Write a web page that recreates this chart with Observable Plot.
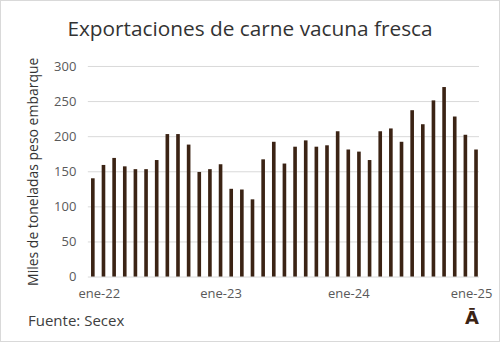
<!DOCTYPE html>
<html>
<head>
<meta charset="utf-8">
<script src="https://cdn.jsdelivr.net/npm/d3@7"></script>
<script src="https://cdn.jsdelivr.net/npm/@observablehq/plot@0.6"></script>
<style>
  html, body { margin: 0; padding: 0; background: #fff; }
  #frame { position: relative; width: 498px; height: 340px; border: 1px solid #d9d9d9; overflow: hidden; font-family: "Open Sans", sans-serif; }
  #title { position: absolute; left: 0; width: 498px; top: 13px; text-align: center; font-size: 20.8px; color: #333; }
  #chart { position: absolute; left: -1px; top: 54px; }
  #source { position: absolute; left: 27px; top: 309px; font-size: 15px; color: #404040; }
  #logo { position: absolute; left: 464px; top: 306px; font-size: 18px; font-weight: bold; color: #3b2314; font-family: "DejaVu Sans", sans-serif; }
</style>
</head>
<body>
<div id="frame">
  <div id="title">Exportaciones de carne vacuna fresca</div>
  <div id="chart"></div>
  <div id="source">Fuente: Secex</div>
  <div id="logo">Ā</div>
</div>
<script>
const months = [
  "2022-01","2022-02","2022-03","2022-04","2022-05","2022-06","2022-07","2022-08","2022-09","2022-10","2022-11","2022-12",
  "2023-01","2023-02","2023-03","2023-04","2023-05","2023-06","2023-07","2023-08","2023-09","2023-10","2023-11","2023-12",
  "2024-01","2024-02","2024-03","2024-04","2024-05","2024-06","2024-07","2024-08","2024-09","2024-10","2024-11","2024-12",
  "2025-01"
];
const values = [
  140, 159, 169, 157, 153, 153, 166, 203, 203, 188, 149, 153,
  160, 125, 124, 110, 167, 192, 161, 185, 194, 185, 187, 207,
  181, 178, 166, 207, 211, 192, 237, 217, 251, 270, 228, 202,
  181
];
const tickMonths = ["2022-01","2023-01","2024-01","2025-01"];
const tickLabels = ["ene-22","ene-23","ene-24","ene-25"];
const yTicks = [0, 50, 100, 150, 200, 250, 300];

const data = months.map((m, i) => ({month: m, value: values[i]}));

const chart = Plot.plot({
  width: 500,
  height: 252,
  marginTop: 11,
  marginBottom: 30,
  marginLeft: 88,
  marginRight: 20,
  style: {fontFamily: "Open Sans, sans-serif", fontSize: "13px", color: "#595959", background: "transparent"},
  x: {
    type: "band",
    domain: months,
    range: [88, 482],
    round: false,
    paddingInner: 0.66,
    paddingOuter: 0.3,
    align: 0.5,
    ticks: tickMonths,
    tickFormat: d => tickLabels[tickMonths.indexOf(d)],
    tickSize: 0,
    tickPadding: 12,
    label: null
  },
  y: {
    domain: [0, 300],
    ticks: yTicks,
    tickSize: 0,
    tickPadding: 12,
    label: "Miles de toneladas peso embarque",
    labelAnchor: "center",
    labelArrow: "none",
    labelOffset: 60
  },
  marks: [
    Plot.gridY(yTicks, {stroke: "#d9d9d9", strokeOpacity: 1, strokeWidth: 1}),
    Plot.barY(data, {x: "month", y: "value", fill: "#3b2314"}),
  ]
});
chart.querySelectorAll("g[aria-label='y-axis label'] text").forEach(t => { t.setAttribute("fill", "#333"); t.style.fontSize = "14px"; });
const xLabels = chart.querySelectorAll("g[aria-label='x-axis tick label'] text");
if (xLabels.length) {
  xLabels[0].setAttribute("dx", "6");
  xLabels[xLabels.length - 1].setAttribute("dx", "-5");
}
document.getElementById("chart").appendChild(chart);
</script>
</body>
</html>
